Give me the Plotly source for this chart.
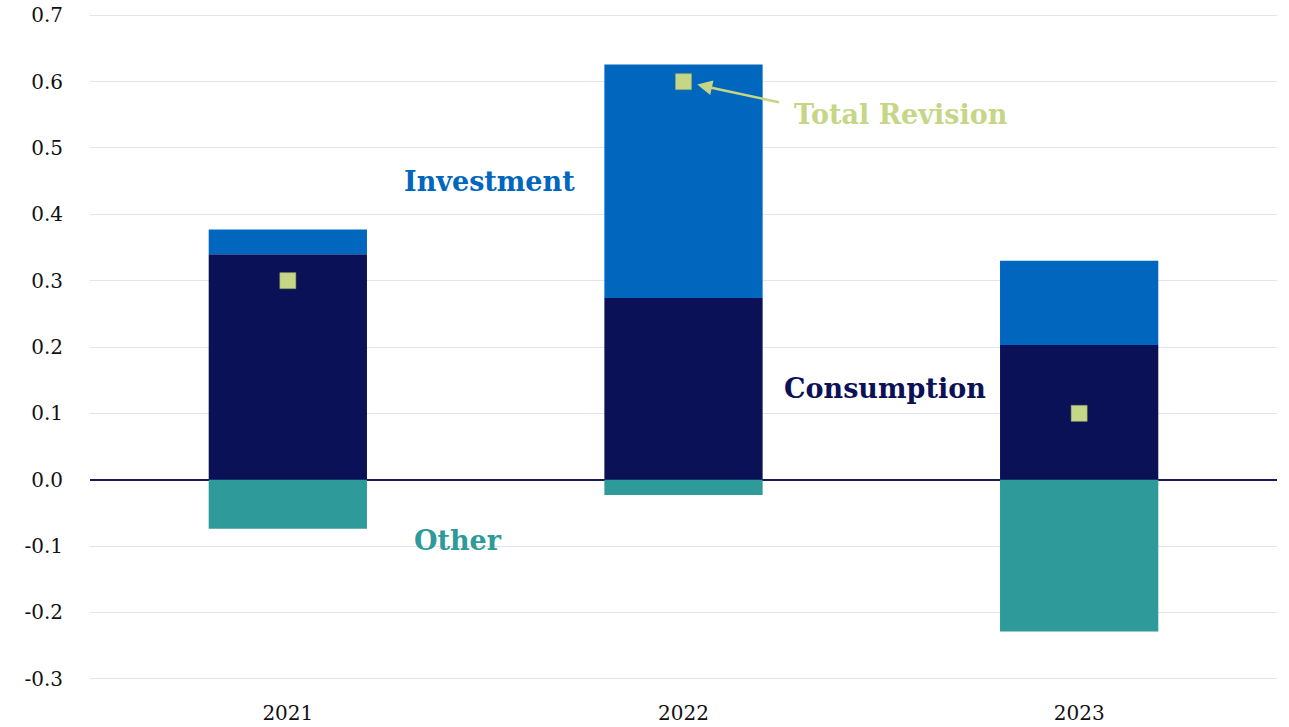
import plotly.graph_objects as go

years = ["2021", "2022", "2023"]
consumption = [0.340, 0.274, 0.203]
investment = [0.037, 0.352, 0.127]
other = [-0.074, -0.023, -0.229]
total_revision = [0.30, 0.60, 0.10]
y_ticks = [0.7, 0.6, 0.5, 0.4, 0.3, 0.2, 0.1, 0.0, -0.1, -0.2, -0.3]

C_INV = "#0066BE"
C_CON = "#0B1157"
C_OTH = "#2E9A99"
C_TOT = "#C5D686"
FONT = "Georgia, 'DejaVu Serif', serif"

fig = go.Figure()
fig.add_trace(go.Bar(x=years, y=consumption, name="Consumption", marker=dict(color=C_CON, line=dict(width=0))))
fig.add_trace(go.Bar(x=years, y=investment, name="Investment", marker=dict(color=C_INV, line=dict(width=0))))
fig.add_trace(go.Bar(x=years, y=other, name="Other", marker=dict(color=C_OTH, line=dict(width=0))))
fig.add_trace(go.Scatter(x=years, y=total_revision, mode="markers", name="Total Revision",
                         marker=dict(symbol="square", size=16, color=C_TOT,
                                     line=dict(width=0.5, color="#9aa860"))))

fig.update_layout(
    barmode="relative",
    bargap=0.6,
    width=1289, height=727,
    margin=dict(l=90, r=12, t=12, b=45),
    plot_bgcolor="white", paper_bgcolor="white",
    showlegend=False,
    font=dict(family=FONT, size=20, color="#111111"),
)
fig.update_yaxes(range=[-0.305, 0.705], tickvals=y_ticks, ticktext=[f"{v:.1f}" for v in y_ticks],
                 showgrid=True, gridcolor="#E3E3EF", gridwidth=1,
                 zeroline=True, zerolinecolor="#1A1A5A", zerolinewidth=1.5,
                 ticks="outside", ticklen=22, tickcolor="rgba(0,0,0,0)", showline=False,
                 automargin=False, ticklabeloverflow="allow")
fig.update_xaxes(ticks="outside", ticklen=13, tickcolor="rgba(0,0,0,0)", showline=False,
                 automargin=False, ticklabeloverflow="allow")

ann_font = lambda c: dict(family=FONT, size=27, color=c, weight="bold")
fig.add_annotation(x=0.51, y=0.45, xref="x", yref="y", text="<b>Investment</b>", showarrow=False, font=ann_font(C_INV))
fig.add_annotation(x=1.51, y=0.138, xref="x", yref="y", text="<b>Consumption</b>", showarrow=False, font=ann_font(C_CON))
fig.add_annotation(x=0.43, y=-0.091, xref="x", yref="y", text="<b>Other</b>", showarrow=False, font=ann_font(C_OTH))
fig.add_annotation(x=1.55, y=0.551, xref="x", yref="y", text="<b>Total Revision</b>", showarrow=False, font=ann_font(C_TOT))
fig.add_annotation(x=1, y=total_revision[1], xref="x", yref="y", text="", showarrow=True,
                   ax=97, ay=21, arrowhead=2, arrowsize=1.2, arrowwidth=2.5, arrowcolor=C_TOT, standoff=14)

fig.write_html("out.html", config={"displayModeBar": False},
               post_script="document.body.style.margin='0';")
